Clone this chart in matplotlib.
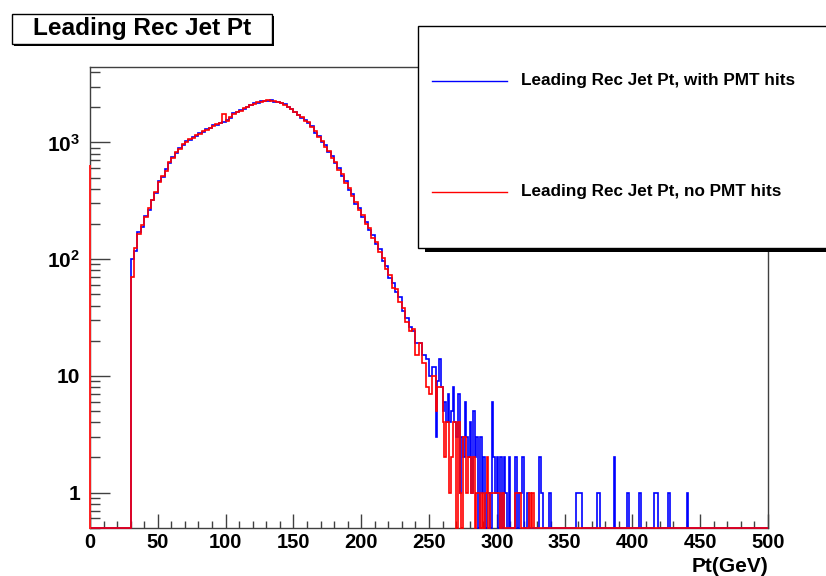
import numpy as np
import matplotlib
matplotlib.use("Agg")
import matplotlib.pyplot as plt
from matplotlib.patches import Rectangle
from matplotlib.ticker import FixedLocator, LogLocator, MultipleLocator, NullFormatter

plt.rcParams['font.family'] = ['Liberation Sans', 'DejaVu Sans']
plt.rcParams['font.weight'] = 'bold'
plt.rcParams['mathtext.fontset'] = 'custom'
plt.rcParams['mathtext.bf'] = 'Liberation Sans:bold'
plt.rcParams['mathtext.rm'] = 'Liberation Sans:bold'

# bulk of the spectrum: 2.5 GeV bins from 30 to 255 GeV
bulk_edges = np.arange(30, 255.01, 2.5)
blue_bulk = [100, 118, 170, 188, 236, 265, 322, 365, 470, 505,
             590, 660, 752, 805, 890, 945, 1020, 1050, 1120, 1140,
             1195, 1235, 1300, 1325, 1405, 1420, 1470, 1490, 1560, 1630,
             1770, 1810, 1895, 1940, 2030, 2075, 2165, 2190, 2260, 2285,
             2280, 2300, 2230, 2225, 2165, 2120, 2005, 1940, 1810, 1730,
             1630, 1560, 1470, 1380, 1215, 1135, 1000, 945, 820, 760,
             660, 605, 515, 470, 390, 358, 298, 275, 228, 208,
             176, 160, 135, 123, 97, 88, 69, 62, 52, 47,
             36, 31, 26, 24, 19, 19, 15, 14, 10, 12]
red_bulk = [70, 125, 165, 196, 230, 275, 318, 378, 455, 520,
            570, 685, 735, 820, 875, 960, 1005, 1065, 1100, 1155,
            1180, 1250, 1280, 1340, 1390, 1440, 1455, 1750, 1540, 1650,
            1745, 1830, 1870, 1960, 2010, 2095, 2140, 2215, 2240, 2270,
            2300, 2255, 2250, 2200, 2190, 2105, 2030, 1915, 1830, 1705,
            1650, 1540, 1490, 1350, 1240, 1110, 1020, 920, 845, 740,
            675, 585, 535, 450, 405, 345, 310, 262, 240, 198,
            184, 152, 140, 116, 103, 82, 73, 57, 55, 43,
            38, 29, 24, 25, 15, 19, 13, 8, 7, 10]

# tail: 1.25 GeV bins from 255 to 500 GeV
tail_edges = np.arange(255, 500.01, 1.25)
blue_tail = [3, 9, 14, 8, 5, 6, 4, 7, 4, 5, 8, 4, 3, 7, 1, 3, 2, 6,
             3, 2, 4, 1, 5, 2, 3, 0, 3, 1, 2, 0, 1, 1, 0, 6, 2, 1]
red_tail = [5, 8, 8, 8, 4, 2, 4, 4, 1, 2, 4, 4, 0, 4, 1, 0, 3, 3,
            1, 2, 2, 1, 2, 0, 1, 1, 0, 1, 0, 1, 2, 0, 1, 1, 1, 1]
# isolated entries above 300 GeV (bin low edge, count)
blue_far_x = [300.0, 302.5, 305.0, 306.25, 308.75, 313.75, 316.25, 317.5, 318.75,
              322.5, 331.25, 332.5, 338.75, 358.75, 360.0, 361.25, 373.75, 375.0,
              386.25, 396.25, 405.0, 416.25, 417.5, 426.25, 440.0]
blue_far_n = [2, 2, 2, 1, 2, 2, 1, 1, 2, 1, 2, 1, 1, 1, 1, 1, 1, 1, 2, 1, 1, 1, 1, 1, 1]
red_far_x = [300.0, 301.25, 303.75, 313.75, 315.0, 316.25, 323.75, 326.25]
red_far_n = [1, 1, 1, 1, 1, 1, 1, 1]
red_left_edge = 630  # red vertical drawn at x = 0

ybot, ytop = 0.5, 4400


def build(bulk, tail, far_x, far_n):
    t = np.zeros(len(tail_edges) - 1)
    t[:len(tail)] = tail
    for x, n in zip(far_x, far_n):
        t[int(round((x - 255) / 1.25))] = n
    vals = np.concatenate([[0], bulk, t])
    return np.where(vals > 0, vals, ybot)


edges = np.concatenate([[0], bulk_edges, tail_edges[1:]])
blue = build(blue_bulk, blue_tail, blue_far_x, blue_far_n)
red = build(red_bulk, red_tail, red_far_x, red_far_n)

W, H = 826, 576
fig = plt.figure(figsize=(W / 100, H / 100), dpi=100)


def fx(px):
    return px / W


def fy(py):
    return 1 - py / H


ax = fig.add_axes([fx(90), fy(527.7), (768 - 90) / W, (527.7 - 67.3) / H])
ax.set_yscale('log')
ax.stairs(blue, edges, baseline=None, color='#0000ff', lw=1.2, zorder=3, clip_on=False)
ax.stairs(red, edges, baseline=None, color='#ff0000', lw=1.2, zorder=4, clip_on=False)
ax.plot([0, 0], [ybot, red_left_edge], color='#ff2020', lw=1.4, zorder=4, clip_on=False)
ax.set_xlim(0, 500)
ax.set_ylim(ybot, ytop)

for s in ax.spines.values():
    s.set_color('#404040')
    s.set_linewidth(1.0)

ax.xaxis.set_major_locator(MultipleLocator(50))
ax.xaxis.set_minor_locator(MultipleLocator(10))
ax.yaxis.set_major_locator(FixedLocator([1, 10, 100, 1000]))
ax.set_yticklabels(['1', '10', r'$\mathbf{10^{2}}$', r'$\mathbf{10^{3}}$'])
ax.yaxis.set_minor_locator(LogLocator(base=10, subs=np.arange(2, 10), numticks=30))
ax.yaxis.set_minor_formatter(NullFormatter())
ax.tick_params(axis='x', which='major', direction='in', length=10, width=1,
               color='#404040', labelsize=14.5, pad=4)
ax.tick_params(axis='x', which='minor', direction='in', length=5, width=1, color='#404040')
ax.tick_params(axis='y', which='major', direction='in', length=14.5, width=1,
               color='#404040', labelsize=15, pad=7)
ax.tick_params(axis='y', which='minor', direction='in', length=7, width=1, color='#404040')
for lab in ax.get_xticklabels() + ax.get_yticklabels():
    lab.set_fontweight('bold')

fig.text(fx(768), fy(566), 'Pt(GeV)', ha='right', va='center', fontsize=15, fontweight='bold')

# title box with shadow
fig.patches.append(Rectangle((fx(14), fy(46)), (272 - 12) / W, (44 - 14) / H,
                             transform=fig.transFigure, facecolor='black', edgecolor='none', zorder=5))
fig.patches.append(Rectangle((fx(12), fy(44)), (272 - 12) / W, (44 - 14) / H,
                             transform=fig.transFigure, facecolor='white', edgecolor='black',
                             lw=1, zorder=6))
fig.text(fx(142.5), fy(28), 'Leading Rec Jet Pt', ha='center', va='center',
         fontsize=17.6, fontweight='bold', zorder=7)

# legend box with shadow
fig.patches.append(Rectangle((fx(425), fy(252)), (860 - 425) / W, (252 - 30) / H,
                             transform=fig.transFigure, facecolor='black', edgecolor='none', zorder=5))
fig.patches.append(Rectangle((fx(418), fy(248)), (860 - 418) / W, (248 - 26) / H,
                             transform=fig.transFigure, facecolor='white', edgecolor='black',
                             lw=1, zorder=6))
entries = [('Leading Rec Jet Pt, with PMT hits', '#0000ff', 81),
           ('Leading Rec Jet Pt, no PMT hits', '#ff0000', 192)]
for label, col, py in entries:
    fig.add_artist(plt.Line2D([fx(432), fx(507)], [fy(py), fy(py)], color=col, lw=1,
                              transform=fig.transFigure, zorder=7))
    fig.text(fx(521), fy(py), label, ha='left', va='center', fontsize=12.3,
             fontweight='bold', zorder=7)

fig.savefig('out.png', dpi=100, facecolor='white')
